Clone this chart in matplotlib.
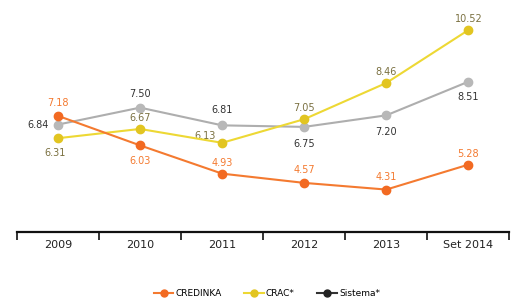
import matplotlib.pyplot as plt
import numpy as np

years = ['2009', '2010', '2011', '2012', '2013', 'Set 2014']
credinka = [7.18, 6.03, 4.93, 4.57, 4.31, 5.28]
crac = [6.31, 6.67, 6.13, 7.05, 8.46, 10.52]
sistema = [6.84, 7.50, 6.81, 6.75, 7.20, 8.51]
names = ['CREDINKA', 'CRAC*', 'Sistema*']

# label offsets in points (dx, dy)
off_credinka = [(0, 9), (0, -11), (0, 8), (0, 9), (0, 9), (0, 8)]
off_crac = [(-2, -11), (0, 8), (-12, 5), (0, 8), (0, 8), (0, 8)]
off_sistema = [(-14, 0), (0, 10), (0, 11), (0, -12), (0, -12), (0, -11)]

c_orange = '#F47A30'
c_yellow = '#EDD834'
c_gray = '#AEAEAE'

fig = plt.figure(figsize=(5.13, 3.04), dpi=100)
ax = fig.add_axes([0.033, 0.237, 0.96, 0.763])
x = np.arange(len(years))

ax.plot(x, sistema, color=c_gray, lw=1.5, marker='o', ms=6,
        mfc='#B8B8B8', mec='#B8B8B8', zorder=3)
ax.plot(x, crac, color=c_yellow, lw=1.5, marker='o', ms=6,
        mfc='#E2C521', mec='#E2C521', zorder=4)
ax.plot(x, credinka, color=c_orange, lw=1.5, marker='o', ms=6,
        mfc='#F26A22', mec='#F26A22', zorder=5)

for vals, offs, col in [(credinka, off_credinka, '#F47A30'),
                        (crac, off_crac, '#7A7040'),
                        (sistema, off_sistema, '#333333')]:
    for i, v in enumerate(vals):
        ax.annotate(f'{v:.2f}', (i, v), xytext=offs[i], textcoords='offset points',
                    ha='center', va='center', fontsize=7, color=col)

ax.set_xlim(-0.5, 5.5)
ax.set_ylim(2.66, 11.69)
ax.set_yticks([])
ax.set_xticks(x)
ax.set_xticklabels(years, fontsize=8, color='#222222')
ax.set_xticks(np.arange(-0.5, 6, 1), minor=True)
ax.tick_params(axis='x', which='major', length=0, pad=6)
ax.tick_params(axis='x', which='minor', length=6, width=1.2, direction='out', color='#111111')
for s in ['top', 'left', 'right']:
    ax.spines[s].set_visible(False)
ax.spines['bottom'].set_linewidth(1.6)
ax.spines['bottom'].set_color('#111111')

handles = [
    plt.Line2D([], [], color=c_orange, lw=1.5, marker='o', ms=5, mfc='#F26A22', mec='#F26A22'),
    plt.Line2D([], [], color=c_yellow, lw=1.5, marker='o', ms=5, mfc='#E2C521', mec='#E2C521'),
    plt.Line2D([], [], color='#333333', lw=1.5, marker='o', ms=5, mfc='#222222', mec='#222222'),
]
fig.legend(handles, names, loc='center', bbox_to_anchor=(0.52, 0.035), ncol=3,
           frameon=False, fontsize=6.5, handlelength=2.2, handletextpad=0.2,
           columnspacing=2.5)

fig.savefig('out.png', dpi=100)
